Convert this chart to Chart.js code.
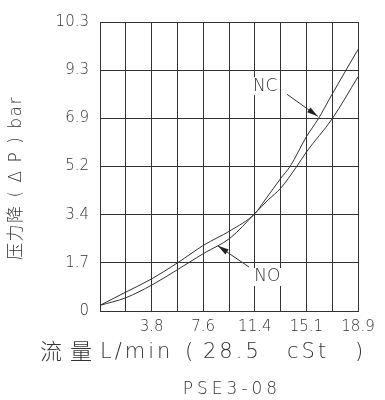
<!DOCTYPE html>
<html>
<head>
<meta charset="utf-8">
<script src="https://cdn.jsdelivr.net/npm/chart.js@4.4.1/dist/chart.umd.min.js"></script>
<style>
html, body { margin: 0; background: #fff; }
#wrap { width: 385px; height: 400px; }
</style>
</head>
<body>
<div id="wrap"><canvas id="chart"></canvas></div>
<script>
// values (flow in L/min, pressure drop in bar)
const flowNC = [0, 1.9, 3.81, 5.71, 7.62, 9.52, 11.36, 12.09, 13.26, 13.92, 15.12, 15.99, 16.97, 18.9];
const barNC  = [0.20, 0.67, 1.14, 1.71, 2.33, 2.83, 3.45, 3.95, 4.77, 5.2, 6.25, 6.88, 8.06, 9.73];
const flowNO = [0, 1.9, 3.81, 5.71, 7.62, 9.52, 11.36, 12.31, 13.26, 14.41, 15.12, 17.03, 18.9];
const barNO  = [0.20, 0.47, 0.92, 1.47, 2.04, 2.57, 3.45, 3.95, 4.40, 5.2, 5.71, 6.9, 8.97];

// the grid is evenly spaced but the bar labels are not
const yTickBars = [0, 1.7, 3.4, 5.2, 6.9, 9.3, 10.3];
const xTickValues = [0, 1.89, 3.78, 5.67, 7.56, 9.45, 11.34, 13.23, 15.12, 17.01, 18.9];
const xTickLabels = ['', '', '3.8', '', '7.6', '', '11.4', '', '15.1', '', '18.9'];

const LINE = '#333';
const TXT = '#333';
const FONT = "'DejaVu Sans', 'Noto Sans CJK SC', sans-serif";

// map a bar value onto the evenly spaced grid (piecewise linear)
function barToGrid(b) {
    for (let i = 0; i < yTickBars.length - 1; i++) {
        if (b <= yTickBars[i + 1]) {
            return i + (b - yTickBars[i]) / (yTickBars[i + 1] - yTickBars[i]);
        }
    }
    return yTickBars.length - 1;
}

function toPoints(flows, bars) {
    return flows.map((f, i) => ({ x: f, y: barToGrid(bars[i]) }));
}

// NC / NO callouts, in flow / bar units
const callouts = [
    { text: 'NC', at: [12.1, 8.5], tail: [13.7, 8.1], tip: [15.95, 7.0] },
    { text: 'NO', at: [12.25, 1.2], tail: [10.92, 1.55], tip: [8.64, 2.3] }
];

const labelsPlugin = {
    id: 'labels',
    afterDatasetsDraw(chart) {
        const ctx = chart.ctx;
        const xs = chart.scales.x, ys = chart.scales.y;
        const px = p => [xs.getPixelForValue(p[0]), ys.getPixelForValue(barToGrid(p[1]))];
        ctx.save();
        ctx.fillStyle = TXT;
        ctx.strokeStyle = LINE;
        ctx.lineWidth = 1;
        callouts.forEach(c => {
            const [tx, ty] = px(c.at);
            ctx.font = '200 17px ' + FONT;
            ctx.textAlign = 'center';
            ctx.textBaseline = 'middle';
            ctx.fillStyle = '#fff';
            const w = ctx.measureText(c.text).width;
            ctx.fillRect(tx - w / 2 - 1, ty - 9, w + 2, 18);
            ctx.fillStyle = TXT;
            ctx.fillText(c.text, tx, ty);

            const [ax, ay] = px(c.tail);
            const [bx, by] = px(c.tip);
            ctx.beginPath();
            ctx.moveTo(ax, ay);
            ctx.lineTo(bx, by);
            ctx.stroke();
            const ang = Math.atan2(by - ay, bx - ax);
            ctx.beginPath();
            ctx.moveTo(bx, by);
            ctx.lineTo(bx - 11 * Math.cos(ang) + 3 * Math.sin(ang), by - 11 * Math.sin(ang) - 3 * Math.cos(ang));
            ctx.lineTo(bx - 11 * Math.cos(ang) - 3 * Math.sin(ang), by - 11 * Math.sin(ang) + 3 * Math.cos(ang));
            ctx.closePath();
            ctx.fillStyle = '#222';
            ctx.fill();
            ctx.fillStyle = TXT;
        });

        // x axis title
        ctx.textAlign = 'left';
        ctx.textBaseline = 'middle';
        ctx.letterSpacing = '8px';
        ctx.font = '300 22px ' + FONT;
        ctx.fillText('流量', 40, 353);
        ctx.letterSpacing = '3px';
        ctx.font = '200 21px ' + FONT;
        [['L/min', 100], ['(', 185], ['28.5', 203], ['cSt', 287], [')', 355]].forEach(s => {
            ctx.fillText(s[0], s[1], 353);
        });

        // model name
        ctx.letterSpacing = '4px';
        ctx.font = '200 17px ' + FONT;
        ctx.textAlign = 'center';
        ctx.fillText('PSE3-08', 232, 390);

        // y axis title, rotated
        ctx.translate(17, 178);
        ctx.rotate(-Math.PI / 2);
        ctx.letterSpacing = '1.5px';
        ctx.font = '200 17px ' + FONT;
        ctx.fillText('压力降 ( Δ P ) bar', 0, 0);
        ctx.restore();
    }
};

new Chart(document.getElementById('chart'), {
    type: 'line',
    data: {
        datasets: [
            {
                label: 'NC',
                data: toPoints(flowNC, barNC),
                borderColor: LINE,
                borderWidth: 1,
                pointRadius: 0,
                fill: false,
                cubicInterpolationMode: 'monotone'
            },
            {
                label: 'NO',
                data: toPoints(flowNO, barNO),
                borderColor: LINE,
                borderWidth: 1,
                pointRadius: 0,
                fill: false,
                cubicInterpolationMode: 'monotone'
            }
        ]
    },
    options: {
        responsive: true,
        maintainAspectRatio: false,
        animation: false,
        layout: { padding: { left: 0, right: 27, top: 22, bottom: 0 } },
        plugins: { legend: { display: false }, tooltip: { enabled: false } },
        scales: {
            x: {
                type: 'linear',
                min: 0,
                max: 18.9,
                afterBuildTicks: s => { s.ticks = xTickValues.map(v => ({ value: v })); },
                afterFit: s => { s.height = 89; },
                ticks: {
                    callback: (v, i) => xTickLabels[i],
                    autoSkip: false,
                    maxRotation: 0,
                    padding: 7,
                    color: TXT,
                    font: { family: FONT, size: 15, weight: 200 }
                },
                grid: { color: LINE, lineWidth: 1, drawTicks: false },
                border: { color: LINE, width: 1 }
            },
            y: {
                type: 'linear',
                min: 0,
                max: yTickBars.length - 1,
                afterBuildTicks: s => { s.ticks = yTickBars.map((b, i) => ({ value: i })); },
                afterFit: s => { s.width = 100; },
                ticks: {
                    callback: (v, i) => String(yTickBars[i]),
                    padding: 11,
                    color: TXT,
                    font: { family: FONT, size: 15, weight: 200 }
                },
                grid: { color: LINE, lineWidth: 1, drawTicks: false },
                border: { color: LINE, width: 1 }
            }
        }
    },
    plugins: [labelsPlugin]
});
</script>
</body>
</html>
